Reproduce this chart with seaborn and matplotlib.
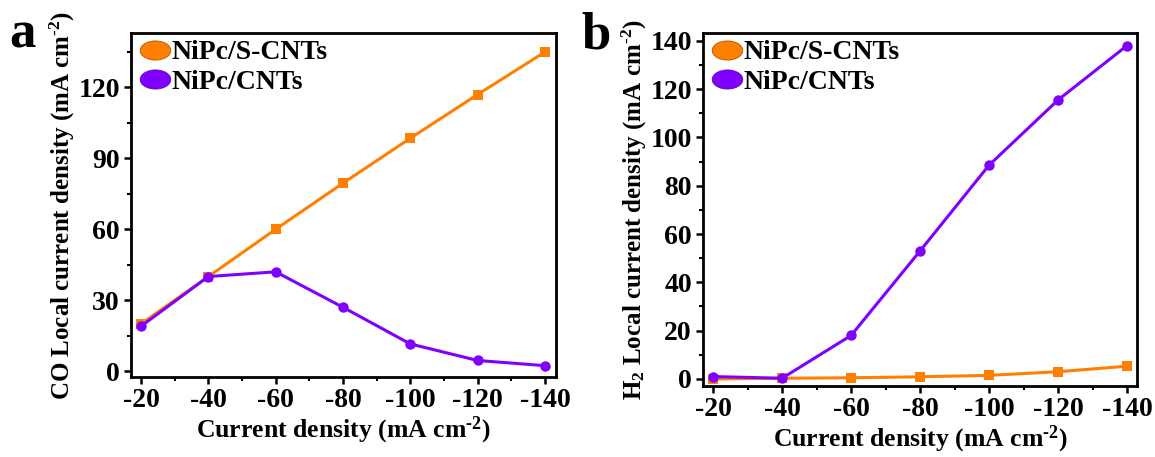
import numpy as np
import pandas as pd
import matplotlib
matplotlib.use("Agg")
import matplotlib.pyplot as plt
from matplotlib.path import Path
from matplotlib.lines import Line2D
from matplotlib.ticker import MultipleLocator
import seaborn as sns

# Applied current densities (mA cm-2)
current = [-20, -40, -60, -80, -100, -120, -140]

# CO partial current densities
co_scnt = [20, 40, 60, 79.5, 98.5, 117, 135]
co_cnt = [19, 40, 42, 27, 11.5, 4.5, 2.3]

# H2 partial current densities
h2_scnt = [0.0, 0.3, 0.5, 0.9, 1.5, 3.0, 5.3]
h2_cnt = [1.0, 0.3, 18, 53, 88.5, 115.5, 138]

samples = ["NiPc/S-CNTs", "NiPc/CNTs"]
colors = {"NiPc/S-CNTs": "#FF8000", "NiPc/CNTs": "#8000FF"}
edges = {"NiPc/S-CNTs": "#B05000", "NiPc/CNTs": "#6000C0"}
markers = {"NiPc/S-CNTs": "s", "NiPc/CNTs": "o"}

sns.set_theme(style="ticks")
plt.rcParams["font.family"] = ["Liberation Serif", "DejaVu Serif"]
plt.rcParams["font.weight"] = "bold"
plt.rcParams["text.color"] = "black"
plt.rcParams["axes.labelcolor"] = "black"
plt.rcParams["xtick.color"] = "black"
plt.rcParams["ytick.color"] = "black"
plt.rcParams["mathtext.fontset"] = "custom"
plt.rcParams["mathtext.rm"] = "Liberation Serif:bold"
plt.rcParams["mathtext.it"] = "Liberation Serif:italic:bold"
plt.rcParams["mathtext.bf"] = "Liberation Serif:bold"
plt.rcParams["mathtext.default"] = "rm"

UNIT = r"(mA cm$^{\text{-2}}$)"


def frame(x, a, b):
    return pd.DataFrame({
        "current": x * 2,
        "value": list(a) + list(b),
        "sample": [samples[0]] * len(a) + [samples[1]] * len(b),
    })


fig = plt.figure(figsize=(11.55, 4.57), dpi=100)
ax_a = fig.add_axes([0.1134, 0.175, 0.368, 0.7527])
ax_b = fig.add_axes([0.6087, 0.1554, 0.3758, 0.7724])

# ellipse glyph for legend handles
ell = Path.unit_circle().transformed(matplotlib.transforms.Affine2D().scale(1.6, 1.0))


def draw(ax, df, ylabel, ylim, ymajor, yminor, xlim):
    sns.lineplot(data=df, x="current", y="value", hue="sample", style="sample",
                 hue_order=samples, style_order=samples, palette=colors,
                 markers=markers, dashes=False, markersize=7.5, linewidth=2.2,
                 markeredgewidth=0, ax=ax, legend=False)
    ax.set_xlim(*xlim)
    ax.set_ylim(*ylim)
    ax.set_xticks(current)
    ax.set_xticklabels([str(c) for c in current])
    ax.xaxis.set_minor_locator(MultipleLocator(10))
    ax.yaxis.set_major_locator(MultipleLocator(ymajor))
    ax.yaxis.set_minor_locator(MultipleLocator(yminor))
    ax.tick_params(axis="both", which="major", direction="out", length=5,
                   width=1.8, labelsize=20, pad=3)
    ax.tick_params(axis="both", which="minor", direction="out", length=3,
                   width=1.5)
    for lab in ax.get_xticklabels() + ax.get_yticklabels():
        lab.set_fontweight("bold")
    for sp in ax.spines.values():
        sp.set_linewidth(2.0)
        sp.set_color("black")
    ax.set_xlabel("Current density " + UNIT, fontsize=18.5,
                  fontweight="bold", labelpad=1)
    ax.set_ylabel(ylabel, fontsize=18, fontweight="bold", labelpad=1)
    handles = [Line2D([], [], linestyle="none", marker=ell, markersize=22,
                      markerfacecolor=colors[s], markeredgecolor=edges[s],
                      markeredgewidth=0.6) for s in samples]
    ax.legend(handles, samples, loc="upper left", frameon=False,
              prop={"family": "Liberation Serif", "weight": "bold", "size": 20},
              handletextpad=0.0, borderaxespad=0.1, labelspacing=0.15,
              handlelength=1.2, borderpad=0.15)


draw(ax_a, frame(current, co_scnt, co_cnt),
     "CO Local current density " + UNIT,
     (-2.5, 143), 30, 15, (-17.0, -143.3))
draw(ax_b, frame(current, h2_scnt, h2_cnt),
     "H$_{2}$ Local current density " + UNIT,
     (-2.9, 143.2), 20, 10, (-17.1, -142.9))

fig.text(0.008, 0.895, "a", fontsize=38, fontweight="bold")
fig.text(0.503, 0.893, "b", fontsize=38, fontweight="bold")

fig.savefig("out.png", dpi=100)
